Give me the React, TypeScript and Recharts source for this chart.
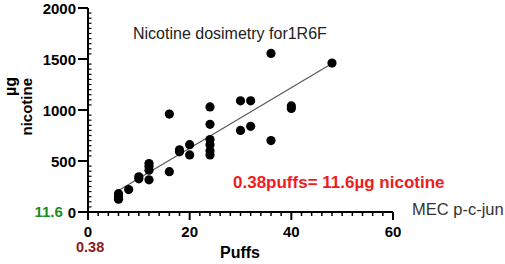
import React from 'react';
import { ScatterChart, Scatter, XAxis, YAxis } from 'recharts';

const puffs = [6, 6, 6, 8, 10, 10, 12, 12, 12, 12, 16, 16, 18, 18, 20, 20, 24, 24, 24, 24, 24, 24, 30, 30, 32, 32, 36, 36, 40, 40, 48];
const nicotineUg = [125, 150, 180, 220, 325, 345, 315, 410, 445, 475, 395, 960, 590, 610, 560, 660, 560, 600, 660, 710, 860, 1030, 800, 1090, 840, 1090, 700, 1555, 1015, 1040, 1460];
const fitPuffs = [6, 48];
const fitNicotine = [210, 1455];
const xMajorTicks = [0, 20, 40, 60];
const yMajorTicks = [0, 500, 1000, 1500, 2000];
const xMinorStep = 2;
const yMinorStep = 50;
const xAllTicks = Array.from({ length: 60 / xMinorStep + 1 }, (_, i) => i * xMinorStep);
const yAllTicks = Array.from({ length: 2000 / yMinorStep + 1 }, (_, i) => i * yMinorStep);

const points = puffs.map((x, i) => ({ x, y: nicotineUg[i] }));
const fit = fitPuffs.map((x, i) => ({ x, y: fitNicotine[i] }));

const FONT = '"Liberation Sans", Arial, sans-serif';
const AXIS_Y = 212;
const AXIS_X = 88;

const XTick = (props: any) => {
  const { x, payload } = props;
  const major = xMajorTicks.includes(payload.value);
  return (
    <g>
      <line x1={x} x2={x} y1={AXIS_Y} y2={AXIS_Y + (major ? 8 : 4)} stroke="#000" strokeWidth={major ? 2 : 1.5} />
      {major && (
        <text x={x} y={236.5} textAnchor="middle" fontFamily={FONT} fontSize={15} fontWeight="bold" fill="#000">
          {payload.value}
        </text>
      )}
    </g>
  );
};

const YTick = (props: any) => {
  const { y, payload } = props;
  const major = yMajorTicks.includes(payload.value);
  return (
    <g>
      {major ? (
        <line x1={AXIS_X - 10} x2={AXIS_X} y1={y} y2={y} stroke="#000" strokeWidth={2} />
      ) : (
        <line x1={AXIS_X} x2={AXIS_X + 3.5} y1={y} y2={y} stroke="#000" strokeWidth={1.2} />
      )}
      {major && (
        <text x={76} y={y + 5.5} textAnchor="end" fontFamily={FONT} fontSize={15} fontWeight="bold" fill="#000">
          {payload.value}
        </text>
      )}
    </g>
  );
};

const Dot = (props: any) => <circle cx={props.cx} cy={props.cy} r={4.6} fill="#000" />;
const NoShape = () => <g />;

export default function App() {
  return (
    <div style={{ position: 'absolute', left: 0, top: 0, width: 505, height: 264, background: '#fff' }}>
      <ScatterChart width={505} height={264} margin={{ top: 8, right: 112, bottom: 22, left: 28 }}>
        <XAxis xAxisId="main" type="number" dataKey="x" domain={[0, 60]} ticks={xAllTicks} interval={0}
          height={30} tickSize={0} tickMargin={0} axisLine={{ stroke: '#000', strokeWidth: 2 }} tickLine={false} tick={XTick} />
        <YAxis yAxisId="main" type="number" dataKey="y" domain={[0, 2000]} ticks={yAllTicks} interval={0}
          width={60} tickSize={0} tickMargin={0} axisLine={{ stroke: '#000', strokeWidth: 2 }} tickLine={false} tick={YTick} />
        <Scatter xAxisId="main" yAxisId="main" data={fit} line={{ stroke: '#555', strokeWidth: 1.1 }} shape={NoShape} isAnimationActive={false} />
        <Scatter xAxisId="main" yAxisId="main" data={points} shape={Dot} isAnimationActive={false} />
      </ScatterChart>
      <svg width={505} height={264} style={{ position: 'absolute', left: 0, top: 0, pointerEvents: 'none' }} fontFamily={FONT}>
        <text x={133} y={39} fontSize={16} fill="#222">Nicotine dosimetry for1R6F</text>
        <text x={233} y={188} fontSize={17} fontWeight="bold" fill="#ee1c1c">0.38puffs= 11.6µg nicotine</text>
        <text x={412} y={215} fontSize={16.5} fill="#333">MEC p-c-jun</text>
        <text x={34.5} y={217} fontSize={15} fontWeight="bold" fill="#1f8a1f">11.6</text>
        <text x={76} y={251.5} fontSize={14.5} fontWeight="bold" fill="#8b1a1a">0.38</text>
        <text x={240} y={258} fontSize={16} fontWeight="bold" fill="#000" textAnchor="middle">Puffs</text>
        <text transform="translate(16,77) rotate(-90)" fontSize={16} fontWeight="bold" fill="#000" textAnchor="end">µg</text>
        <text transform="translate(32,78) rotate(-90)" fontSize={15} fontWeight="bold" fill="#000" textAnchor="end">nicotine</text>
      </svg>
    </div>
  );
}
